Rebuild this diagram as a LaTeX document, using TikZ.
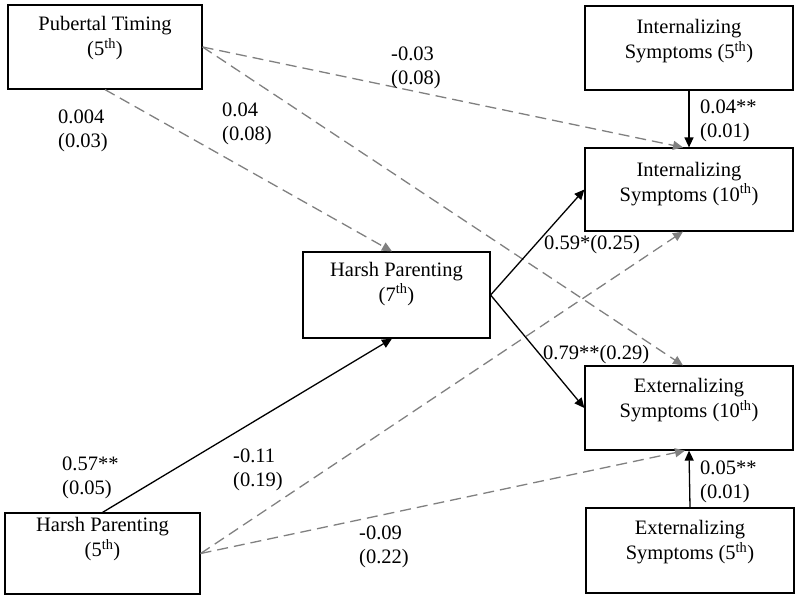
\documentclass[tikz,border=0pt]{standalone}
\usepackage{fontspec}
\setmainfont{Liberation Serif}
\usetikzlibrary{arrows.meta}
\definecolor{pathgray}{RGB}{128,128,128}
\def\grade#1{#1\textsuperscript{th}}

\begin{document}
\begin{tikzpicture}[x=1pt, y=-1pt,
    font=\fontsize{20.5}{25}\selectfont,
    varbox/.style={draw, line width=1.2pt, minimum width=#1, minimum height=84pt, inner sep=0},
    varbox/.default=208pt,
    boxtext/.style={anchor=north, align=center, inner sep=0},
    coef/.style={anchor=west, align=left, inner sep=0, font=\fontsize{20.5}{24}\selectfont},
    sig/.style={line width=1.3pt, -{Triangle[length=10pt, width=9pt]}},
    nonsig/.style={sig, pathgray, dash pattern=on 11pt off 6pt}]
    \useasboundingbox (0,0) rectangle (800,600);
    % variables
    \node[varbox=194pt, label={[boxtext, yshift=-12pt]north:{Pubertal Timing\\(\grade{5})}}] (pt5) at (105,47) {};
    \node[varbox, label={[boxtext, yshift=-14pt]north:{Internalizing\\Symptoms (\grade{5})}}] (int5) at (689,48) {};
    \node[varbox, minimum height=83pt, label={[boxtext, yshift=-14.5pt]north:{Internalizing\\Symptoms (\grade{10})}}] (int10) at (689,189.5) {};
    \node[varbox=187pt, minimum height=86pt, label={[boxtext, yshift=-10.5pt]north:{Harsh Parenting\\(\grade{7})}}] (hp7) at (396.5,295) {};
    \node[varbox, label={[boxtext, yshift=-13pt]north:{Externalizing\\Symptoms (\grade{10})}}] (ext10) at (689,408) {};
    \node[varbox=195pt, minimum height=81pt, label={[boxtext, yshift=-5pt]north:{Harsh Parenting\\(\grade{5})}}] (hp5) at (102.5,553.5) {};
    \node[varbox, minimum height=85pt, label={[boxtext, yshift=-13pt]north:{Externalizing\\Symptoms (\grade{5})}}] (ext5) at (690,550.5) {};

    % paths
    \draw[nonsig] (pt5.east) -- ([xshift=-6pt]int10.north);
    \draw[nonsig] (pt5.east) -- ([xshift=-6pt]ext10.north);
    \draw[nonsig] (pt5.south) -- ([xshift=-4.5pt]hp7.north);
    \draw[sig] (int5.south) -- (int10.north);
    \draw[sig] (hp7.east) -- (int10.west);
    \draw[sig] (hp7.east) -- (ext10.west);
    \draw[sig] (hp5.north) -- ([xshift=-4.5pt]hp7.south);
    \draw[nonsig] (hp5.east) -- ([xshift=-6pt]int10.south);
    \draw[nonsig] (hp5.east) -- ([xshift=-4pt]ext10.south);
    \draw[sig] (ext5.north) -- (ext10.south);

    % coefficients
    \node[coef] (c1) at (391,68) {-0.03\\(0.08)};
    \node[coef] (c2) at (58,130.5) {0.004\\(0.03)};
    \node[coef] (c3) at (222,123.5) {0.04\\(0.08)};
    \node[coef] (c4) at (700,121) {0.04**\\(0.01)};
    \node[coef] (c5) at (544,245) {0.59*(0.25)};
    \node[coef] (c6) at (543,355) {0.79**(0.29)};
    \node[coef] (c7) at (62,477.5) {0.57**\\(0.05)};
    \node[coef] (c8) at (233,469.5) {-0.11\\(0.19)};
    \node[coef] (c9) at (359,546.5) {-0.09\\(0.22)};
    \node[coef] (c10) at (700,482) {0.05**\\(0.01)};
\end{tikzpicture}
\end{document}
